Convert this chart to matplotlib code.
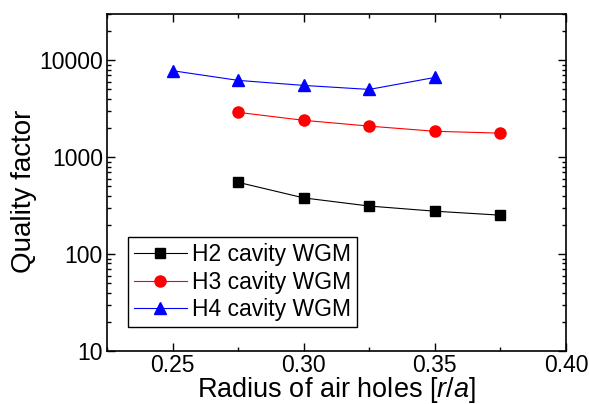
import matplotlib
matplotlib.use('Agg')
import matplotlib.pyplot as plt
from matplotlib.ticker import MultipleLocator, LogLocator, NullFormatter

plt.rcParams['font.family'] = 'Liberation Sans'
plt.rcParams['mathtext.fontset'] = 'custom'
plt.rcParams['mathtext.rm'] = 'Liberation Sans'
plt.rcParams['mathtext.it'] = 'Liberation Sans:italic'

# data
r_h2 = [0.275, 0.300, 0.325, 0.350, 0.375]
q_h2 = [550, 380, 313, 277, 252]
r_h3 = [0.275, 0.300, 0.325, 0.350, 0.375]
q_h3 = [2900, 2400, 2090, 1850, 1770]
r_h4 = [0.250, 0.275, 0.300, 0.325, 0.350]
q_h4 = [7800, 6200, 5500, 5000, 6650]

fig = plt.figure(figsize=(5.89, 4.04), dpi=100)
ax = fig.add_axes([0.1817, 0.1312, 0.7793, 0.8341])

ax.plot(r_h2, q_h2, color='black', marker='s', markersize=7, linewidth=0.8, label='H2 cavity WGM')
ax.plot(r_h3, q_h3, color='red', marker='o', markersize=8, linewidth=0.8, label='H3 cavity WGM')
ax.plot(r_h4, q_h4, color='blue', marker='^', markersize=9, linewidth=0.8, label='H4 cavity WGM')

ax.set_yscale('log')
ax.set_xlim(0.225, 0.40)
ax.set_ylim(10, 30000)
ax.xaxis.set_major_locator(MultipleLocator(0.05))
ax.xaxis.set_minor_locator(MultipleLocator(0.025))
ax.xaxis.set_major_formatter(matplotlib.ticker.FormatStrFormatter('%.2f'))
ax.yaxis.set_major_locator(LogLocator(base=10, numticks=10))
ax.yaxis.set_minor_locator(LogLocator(base=10, subs=range(2, 10), numticks=10))
ax.yaxis.set_minor_formatter(NullFormatter())
ax.yaxis.set_major_formatter(matplotlib.ticker.FuncFormatter(lambda v, p: '%d' % v))

ax.tick_params(which='both', direction='in', top=True, right=True, labelsize=16.5, width=1)
ax.tick_params(which='major', length=6)
ax.tick_params(which='minor', length=3)
ax.tick_params(axis='x', pad=2)
ax.tick_params(axis='y', pad=3)
for s in ax.spines.values():
    s.set_linewidth(1.2)

ax.set_xlabel('Radius of air holes [$r$/$a$]', fontsize=19.5, labelpad=-1.5)
ax.set_ylabel('Quality factor', fontsize=20)
ax.yaxis.set_label_coords(-0.152, 0.475)

leg = ax.legend(loc='lower left', bbox_to_anchor=(0.046, 0.071), fontsize=16.5, fancybox=False,
                edgecolor='black', framealpha=1, handlelength=2.3, borderpad=0.25,
                labelspacing=0.2, handletextpad=0.25, borderaxespad=0)
leg.get_frame().set_linewidth(1.0)

plt.savefig('out.png', dpi=100)
